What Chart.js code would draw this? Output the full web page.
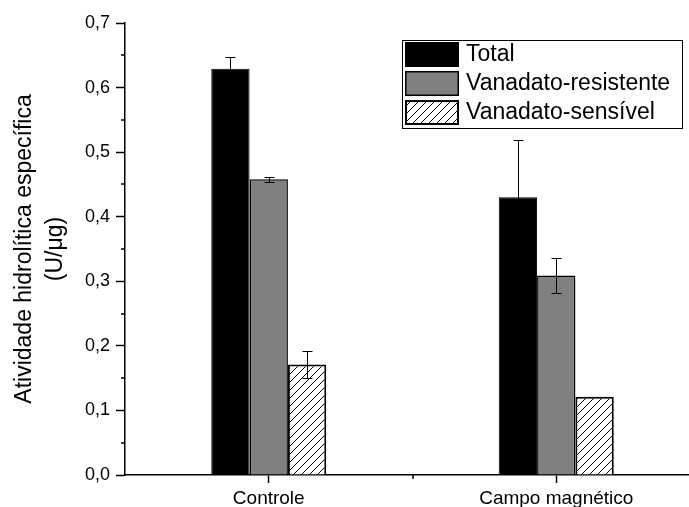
<!DOCTYPE html>
<html lang="pt">
<head>
<meta charset="utf-8">
<title>Atividade hidrolítica específica</title>
<script src="https://cdn.jsdelivr.net/npm/chart.js@4.4.1/dist/chart.umd.min.js"></script>
<style>
  html, body { margin: 0; padding: 0; background: #fff; overflow: hidden; }
  #wrap { width: 689px; height: 507px; overflow: hidden; }
  canvas { display: block; }
</style>
</head>
<body>
<div id="wrap"><canvas id="atividadeChart" width="700" height="507"></canvas></div>
<script>
const categories = ['Controle', 'Campo magnético'];
const seriesNames = ['Total', 'Vanadato-resistente', 'Vanadato-sensível'];
const totalValues = [0.629, 0.430];
const totalErrors = [0.018, 0.089];
const resistenteValues = [0.458, 0.309];
const resistenteErrors = [0.004, 0.027];
const sensivelValues = [0.171, 0.121];
const sensivelErrors = [0.021, 0];
const yTicks = [0, 0.1, 0.2, 0.3, 0.4, 0.5, 0.6, 0.7];

const FONT = '"Liberation Sans", Arial, sans-serif';

document.addEventListener('DOMContentLoaded', function() {
  const canvas = document.getElementById('atividadeChart');
  const ctx = canvas.getContext('2d');

  // diagonal "/" hatch for the vanadate-sensitive bars
  const tile = document.createElement('canvas');
  tile.width = 8; tile.height = 8;
  const t = tile.getContext('2d');
  t.fillStyle = '#fff';
  t.fillRect(0, 0, 8, 8);
  t.strokeStyle = '#000';
  t.lineWidth = 1;
  t.beginPath();
  t.moveTo(0, 8); t.lineTo(8, 0);
  t.moveTo(-1, 1); t.lineTo(1, -1);
  t.moveTo(7, 9); t.lineTo(9, 7);
  t.stroke();
  const hatch = ctx.createPattern(tile, 'repeat');

  const errorBars = {
    id: 'errorBars',
    afterDatasetsDraw(chart) {
      const c = chart.ctx, y = chart.scales.y;
      c.save();
      c.strokeStyle = '#000';
      c.lineWidth = 1;
      chart.data.datasets.forEach((ds, i) => {
        chart.getDatasetMeta(i).data.forEach((bar, j) => {
          const err = ds.errors[j];
          if (!err) return;
          const x = Math.round(bar.x) + 0.5;
          const hi = Math.round(y.getPixelForValue(ds.data[j] + err)) + 0.5;
          const lo = Math.round(y.getPixelForValue(ds.data[j] - err)) + 0.5;
          c.beginPath();
          c.moveTo(x, hi); c.lineTo(x, lo);
          c.moveTo(x - 5, hi); c.lineTo(x + 5, hi);
          c.moveTo(x - 5, lo); c.lineTo(x + 5, lo);
          c.stroke();
        });
      });
      c.restore();
    }
  };

  const minorTicks = {
    id: 'minorTicks',
    afterDraw(chart) {
      const c = chart.ctx, x = chart.scales.x, y = chart.scales.y;
      const area = chart.chartArea;
      c.save();
      c.strokeStyle = '#000';
      c.lineWidth = 1.5;
      c.beginPath();
      for (let i = 0; i < yTicks.length - 1; i++) {
        const py = Math.round(y.getPixelForValue((yTicks[i] + yTicks[i + 1]) / 2));
        c.moveTo(area.left - 4, py); c.lineTo(area.left, py);
      }
      const px = Math.round((x.getPixelForTick(0) + x.getPixelForTick(1)) / 2);
      c.moveTo(px, area.bottom); c.lineTo(px, area.bottom + 4);
      c.stroke();
      c.restore();
    }
  };

  const boxLegend = {
    id: 'boxLegend',
    afterDraw(chart) {
      const c = chart.ctx;
      c.save();
      c.strokeStyle = '#000';
      c.lineWidth = 1;
      c.strokeRect(402.5, 40.5, 280, 88);
      c.font = '23px ' + FONT;
      c.textBaseline = 'middle';
      c.fillStyle = '#000';
      chart.data.datasets.forEach((ds, i) => {
        const top = 42 + i * 29;
        c.fillStyle = ds.backgroundColor;
        c.fillRect(405, top, 54, 25);
        c.lineWidth = ds.borderWidth;
        c.strokeStyle = '#000';
        c.strokeRect(405 + ds.borderWidth / 2, top + ds.borderWidth / 2, 54 - ds.borderWidth, 25 - ds.borderWidth);
        c.fillStyle = '#000';
        c.fillText(ds.label, 466, top + 13);
      });
      c.restore();
    }
  };

  new Chart(ctx, {
    type: 'bar',
    data: {
      labels: categories,
      datasets: [
        { label: seriesNames[0], data: totalValues, errors: totalErrors, backgroundColor: '#000', borderColor: '#000', borderWidth: 1 },
        { label: seriesNames[1], data: resistenteValues, errors: resistenteErrors, backgroundColor: '#808080', borderColor: '#000', borderWidth: 1.5 },
        { label: seriesNames[2], data: sensivelValues, errors: sensivelErrors, backgroundColor: hatch, borderColor: '#000', borderWidth: 2 }
      ]
    },
    options: {
      responsive: false,
      animation: false,
      layout: { padding: { top: 23, right: 0, left: 0, bottom: 0 } },
      plugins: { legend: { display: false }, tooltip: { enabled: false } },
      datasets: { bar: { categoryPercentage: 0.4, barPercentage: 1 } },
      scales: {
        x: {
          grid: { display: true, drawOnChartArea: false, offset: false, tickLength: 8, tickColor: '#000', tickWidth: 1.5 },
          border: { display: true, color: '#000', width: 1.5 },
          ticks: { color: '#000', font: { family: FONT, size: 19 }, padding: 4, maxRotation: 0 },
          afterFit(scale) { scale.height = 32; }
        },
        y: {
          min: 0, max: 0.7,
          afterBuildTicks(scale) { scale.ticks = yTicks.map(v => ({ value: v })); },
          grid: { display: true, drawOnChartArea: false, tickLength: 9, tickColor: '#000', tickWidth: 1.5 },
          border: { display: true, color: '#000', width: 1.5 },
          ticks: { color: '#000', font: { family: FONT, size: 18 }, padding: 6, callback: v => v.toFixed(1).replace('.', ',') },
          title: {
            display: true,
            text: ['Atividade hidrolítica específica', '(U/μg)'],
            color: '#000',
            font: { family: FONT, size: 23, lineHeight: 1.35 },
            padding: { top: 9, bottom: 0 }
          },
          afterFit(scale) { scale.width = 125; }
        }
      }
    },
    plugins: [errorBars, minorTicks, boxLegend]
  });
});
</script>
</body>
</html>
